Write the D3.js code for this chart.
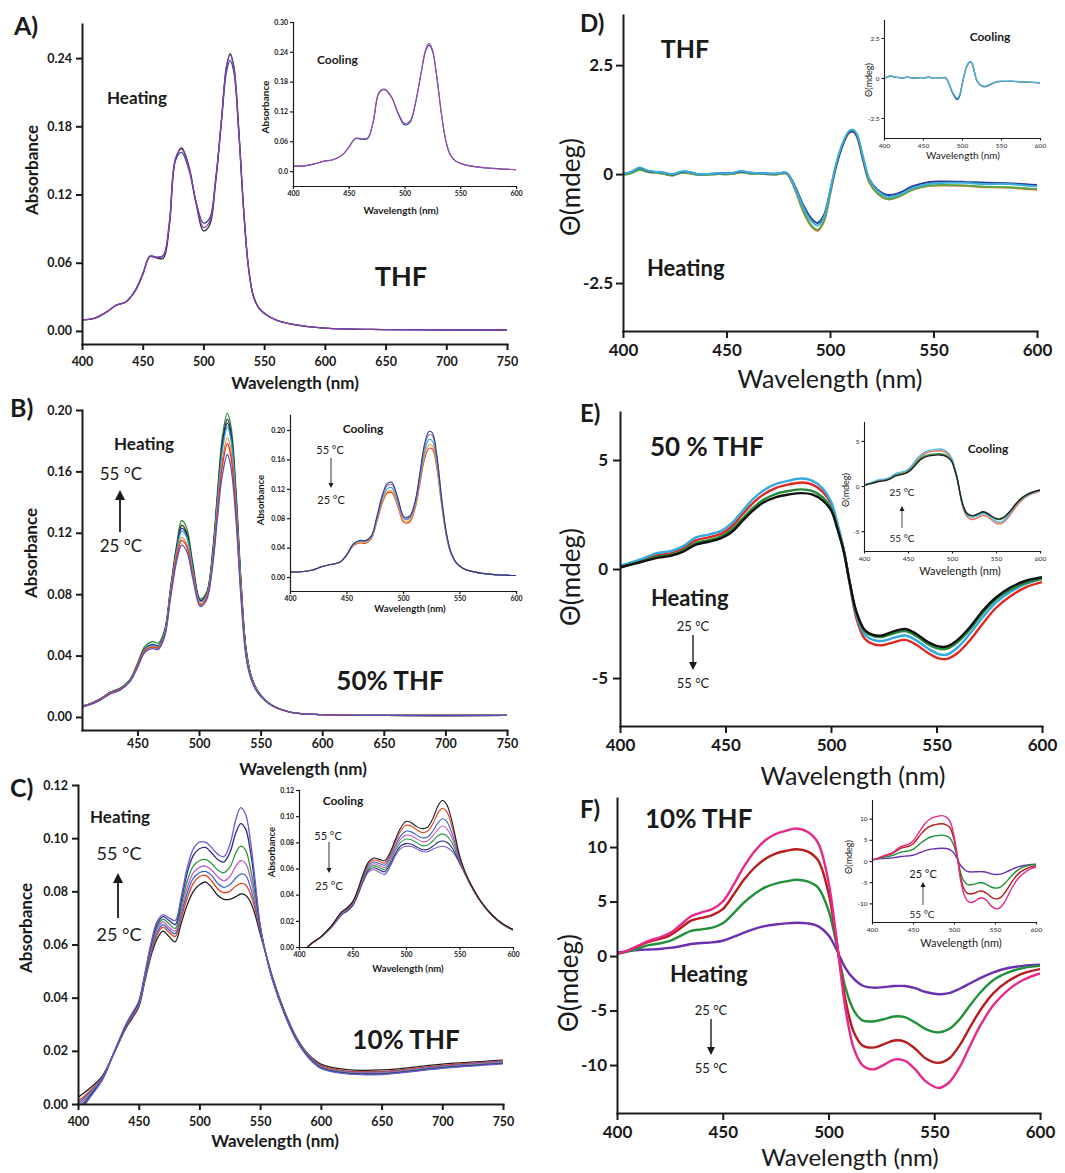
<!DOCTYPE html>
<meta charset="utf-8">
<head>
<title>Absorbance and CD spectra</title>
<script src="https://d3js.org/d3.v7.min.js"></script>
<style>
  body { margin: 0; background: #fff; }
</style>
</head>
<body>
<div id="fig"></div>
<script>
// ---------- tick values ----------
const xTicksLong = [400, 450, 500, 550, 600, 650, 700, 750];
const xTicksB = [450, 500, 550, 600, 650, 700, 750];
const xTicksShort = [400, 450, 500, 550, 600];
const yTicksA = [0, 0.06, 0.12, 0.18, 0.24];
const yTicksAi = [0, 0.06, 0.12, 0.18, 0.24, 0.30];
const yTicksB = [0, 0.04, 0.08, 0.12, 0.16, 0.20];
const yTicksC = [0, 0.02, 0.04, 0.06, 0.08, 0.10, 0.12];
const yTicksD = [-2.5, 0, 2.5];
const yTicksE = [-5, 0, 5];
const yTicksF = [-10, -5, 0, 5, 10];

// ---------- A) THF absorbance ----------
const wlA = [400,410,420,428,436,444,450,456,462,467,472,477,482,488,494,500,505,510,515,519,522,525,529,533,537,541,546,552,560,575,600,650,750];
const absA_black  = [.0097,.0110,.0165,.0225,.0255,.0355,.0495,.0655,.0640,.0640,.0930,.1510,.1610,.1450,.1120,.0880,.0930,.1300,.1870,.2330,.2440,.2330,.1790,.1090,.0570,.0310,.0195,.0140,.0095,.0055,.0025,.0012,.0008];
const absA_navy   = [.0097,.0110,.0165,.0225,.0255,.0360,.0500,.0655,.0650,.0665,.0960,.1500,.1570,.1420,.1130,.0950,.0990,.1330,.1860,.2280,.2380,.2280,.1760,.1080,.0570,.0315,.0198,.0142,.0096,.0055,.0025,.0012,.0008];
const absA_purple = [.0097,.0110,.0165,.0225,.0255,.0360,.0500,.0660,.0645,.0660,.0950,.1520,.1600,.1440,.1130,.0910,.0960,.1320,.1880,.2320,.2430,.2320,.1780,.1080,.0560,.0310,.0195,.0140,.0095,.0055,.0025,.0012,.0008];
// inset (cooling), same grid up to 600 nm
const absAi_navy   = [.0100,.0105,.0150,.0200,.0230,.0320,.0475,.0650,.0640,.0655,.0990,.1560,.1640,.1500,.1170,.0930,.0980,.1380,.1980,.2420,.2530,.2420,.1880,.1170,.0620,.0330,.0200,.0140,.0100,.0060,.0030];
const absAi_purple = [.0100,.0105,.0150,.0200,.0230,.0320,.0480,.0660,.0650,.0670,.1010,.1580,.1650,.1510,.1190,.0960,.1010,.1400,.2000,.2450,.2570,.2450,.1900,.1180,.0620,.0330,.0200,.0140,.0100,.0060,.0030];

// ---------- B) 50% THF absorbance ----------
const wlB = [405,410,420,428,436,444,450,456,462,467,472,477,482,486,490,495,501,506,511,515,519,523,526,530,534,538,542,547,553,560,575,600,650,750];
const absB_green  = [.0072,.0082,.0120,.0162,.0188,.0245,.0348,.0460,.0490,.0482,.0565,.0850,.1130,.1280,.1230,.1000,.0770,.0810,.1080,.1470,.1830,.1980,.1890,.1480,.0900,.0460,.0280,.0178,.0118,.0073,.0030,.0015,.0010,.0010];
const absB_black  = [.0070,.0080,.0118,.0160,.0185,.0240,.0340,.0445,.0472,.0466,.0552,.0838,.1110,.1250,.1200,.0980,.0760,.0800,.1060,.1440,.1790,.1940,.1850,.1450,.0880,.0450,.0275,.0176,.0116,.0072,.0030,.0015,.0010,.0010];
const absB_navy   = [.0070,.0080,.0118,.0159,.0184,.0239,.0338,.0442,.0469,.0463,.0548,.0830,.1100,.1230,.1185,.0970,.0755,.0795,.1050,.1425,.1765,.1915,.1825,.1430,.0870,.0445,.0272,.0175,.0115,.0072,.0030,.0015,.0010,.0010];
const absB_cyan   = [.0070,.0080,.0118,.0158,.0183,.0238,.0336,.0440,.0466,.0460,.0545,.0825,.1090,.1210,.1170,.0960,.0750,.0790,.1040,.1410,.1740,.1890,.1800,.1410,.0860,.0440,.0270,.0174,.0115,.0072,.0030,.0015,.0010,.0010];
const absB_orange = [.0068,.0078,.0115,.0155,.0180,.0235,.0332,.0432,.0458,.0452,.0535,.0810,.1065,.1170,.1130,.0935,.0740,.0780,.1015,.1365,.1675,.1820,.1730,.1360,.0830,.0425,.0262,.0170,.0113,.0071,.0030,.0015,.0010,.0010];
const absB_red    = [.0068,.0078,.0115,.0155,.0180,.0235,.0330,.0430,.0455,.0450,.0530,.0800,.1050,.1150,.1110,.0920,.0730,.0770,.1000,.1340,.1640,.1780,.1690,.1330,.0810,.0415,.0258,.0168,.0112,.0070,.0030,.0015,.0010,.0010];
const absB_violet = [.0065,.0075,.0110,.0150,.0175,.0230,.0320,.0420,.0445,.0440,.0520,.0780,.1020,.1120,.1080,.0900,.0720,.0760,.0980,.1300,.1580,.1710,.1620,.1280,.0780,.0400,.0250,.0165,.0110,.0070,.0030,.0015,.0010,.0010];
// inset (cooling)
const wlBi = [400,410,420,428,436,444,450,456,462,467,472,477,482,486,490,495,501,506,511,515,519,523,526,530,534,538,542,547,553,560,575,600];
const absBi_navy   = [.0070,.0072,.0095,.0140,.0170,.0200,.0300,.0450,.0500,.0495,.0560,.0830,.1130,.1270,.1290,.1100,.0820,.0830,.1050,.1420,.1800,.1980,.1960,.1650,.1100,.0640,.0360,.0200,.0120,.0080,.0040,.0020];
const absBi_purple = [.0070,.0072,.0095,.0140,.0170,.0200,.0298,.0445,.0495,.0490,.0555,.0815,.1105,.1240,.1260,.1075,.0800,.0812,.1030,.1395,.1765,.1940,.1920,.1620,.1085,.0630,.0355,.0198,.0119,.0080,.0040,.0020];
const absBi_cyan   = [.0070,.0072,.0095,.0140,.0170,.0200,.0296,.0440,.0488,.0483,.0545,.0795,.1075,.1200,.1215,.1040,.0790,.0800,.1005,.1350,.1700,.1870,.1850,.1565,.1050,.0615,.0348,.0196,.0118,.0079,.0040,.0020];
const absBi_orange = [.0070,.0072,.0095,.0140,.0170,.0200,.0292,.0430,.0470,.0468,.0530,.0770,.1040,.1160,.1175,.1000,.0760,.0770,.0970,.1300,.1640,.1800,.1785,.1510,.1020,.0600,.0340,.0193,.0117,.0078,.0040,.0020];
const absBi_red    = [.0070,.0072,.0095,.0140,.0170,.0200,.0290,.0425,.0462,.0460,.0522,.0758,.1020,.1140,.1150,.0980,.0740,.0752,.0950,.1270,.1600,.1750,.1740,.1475,.1000,.0590,.0335,.0190,.0116,.0078,.0040,.0020];

// ---------- C) 10% THF absorbance ----------
const wlC = [400,410,420,430,440,445,450,455,460,465,470,475,480,485,490,495,500,505,510,515,520,525,530,534,538,542,546,550,555,560,570,580,590,600,620,650,700,750];
const absC_black   = [.0025,.0060,.0105,.0195,.0290,.0325,.0365,.0460,.0555,.0620,.0650,.0630,.0610,.0680,.0750,.0800,.0825,.0835,.0815,.0785,.0770,.0770,.0780,.0790,.0785,.0760,.0710,.0640,.0560,.0480,.0350,.0250,.0185,.0150,.0130,.0128,.0150,.0165];
const absC_red     = [.0010,.0050,.0100,.0195,.0295,.0330,.0370,.0465,.0565,.0635,.0665,.0645,.0630,.0700,.0775,.0830,.0855,.0860,.0840,.0810,.0795,.0800,.0820,.0830,.0825,.0790,.0730,.0650,.0560,.0478,.0348,.0248,.0183,.0145,.0125,.0123,.0145,.0162];
const absC_blue    = [.0000,.0045,.0098,.0195,.0297,.0333,.0373,.0470,.0572,.0645,.0675,.0655,.0640,.0715,.0795,.0850,.0870,.0875,.0860,.0830,.0815,.0825,.0850,.0865,.0860,.0815,.0745,.0655,.0560,.0476,.0346,.0246,.0181,.0142,.0122,.0120,.0142,.0160];
const absC_magenta = [-.0010,.0040,.0096,.0196,.0299,.0336,.0376,.0475,.0580,.0655,.0685,.0665,.0650,.0730,.0815,.0870,.0890,.0895,.0880,.0855,.0840,.0855,.0895,.0915,.0905,.0850,.0765,.0660,.0560,.0474,.0344,.0244,.0179,.0140,.0120,.0118,.0140,.0158];
const absC_green   = [-.0020,.0035,.0094,.0197,.0301,.0339,.0380,.0480,.0588,.0665,.0695,.0678,.0660,.0745,.0840,.0895,.0915,.0920,.0905,.0880,.0870,.0890,.0945,.0970,.0955,.0885,.0785,.0665,.0558,.0472,.0342,.0242,.0177,.0138,.0118,.0115,.0138,.0155];
const absC_navy    = [-.0030,.0030,.0092,.0198,.0303,.0342,.0383,.0485,.0595,.0675,.0705,.0690,.0675,.0765,.0870,.0935,.0960,.0965,.0945,.0920,.0910,.0945,.1020,.1055,.1035,.0950,.0815,.0670,.0558,.0470,.0340,.0240,.0175,.0136,.0116,.0113,.0136,.0153];
const absC_violet  = [-.0040,.0025,.0090,.0199,.0305,.0345,.0386,.0490,.0602,.0685,.0712,.0700,.0690,.0780,.0890,.0960,.0985,.0985,.0965,.0940,.0930,.0975,.1070,.1115,.1090,.0990,.0835,.0675,.0558,.0468,.0338,.0238,.0173,.0134,.0114,.0111,.0134,.0151];
// inset (cooling)
const wlCi = [408,412,420,430,440,445,450,455,460,465,470,475,480,485,490,495,500,505,510,515,520,525,530,534,538,542,546,550,555,560,570,580,590,600];
const absCi_black   = [.0000,.0030,.0075,.0160,.0270,.0300,.0345,.0440,.0560,.0650,.0680,.0670,.0660,.0720,.0820,.0910,.0960,.0950,.0920,.0905,.0915,.0980,.1080,.1120,.1090,.0990,.0850,.0700,.0580,.0490,.0350,.0250,.0180,.0134];
const absCi_red     = [.0000,.0030,.0075,.0158,.0266,.0296,.0340,.0432,.0550,.0640,.0665,.0655,.0642,.0705,.0800,.0885,.0930,.0925,.0895,.0875,.0885,.0940,.1025,.1060,.1035,.0950,.0825,.0690,.0575,.0487,.0348,.0249,.0179,.0133];
const absCi_blue    = [.0000,.0030,.0074,.0155,.0262,.0292,.0335,.0425,.0540,.0625,.0650,.0638,.0625,.0685,.0775,.0850,.0885,.0880,.0855,.0835,.0840,.0885,.0950,.0980,.0960,.0890,.0790,.0675,.0570,.0485,.0346,.0248,.0178,.0132];
const absCi_magenta = [.0000,.0030,.0074,.0153,.0258,.0288,.0330,.0418,.0530,.0612,.0636,.0622,.0608,.0668,.0755,.0825,.0855,.0850,.0828,.0805,.0810,.0850,.0900,.0925,.0905,.0850,.0765,.0665,.0567,.0483,.0345,.0247,.0177,.0132];
const absCi_green   = [.0000,.0029,.0073,.0151,.0254,.0284,.0325,.0410,.0520,.0600,.0622,.0606,.0592,.0650,.0735,.0800,.0825,.0820,.0798,.0775,.0778,.0810,.0850,.0865,.0850,.0810,.0740,.0655,.0565,.0481,.0344,.0246,.0176,.0131];
const absCi_navy    = [.0000,.0029,.0072,.0148,.0250,.0278,.0318,.0402,.0508,.0588,.0606,.0590,.0575,.0630,.0712,.0772,.0790,.0785,.0765,.0745,.0745,.0770,.0800,.0810,.0800,.0770,.0715,.0645,.0562,.0480,.0343,.0245,.0175,.0130];
const absCi_violet  = [.0000,.0029,.0072,.0146,.0246,.0273,.0312,.0395,.0498,.0575,.0590,.0572,.0555,.0612,.0695,.0752,.0770,.0768,.0750,.0730,.0728,.0748,.0765,.0770,.0762,.0740,.0700,.0640,.0560,.0478,.0342,.0244,.0174,.0130];

// ---------- D) THF CD ----------
const wlD = [400,404,408,412,416,420,424,428,432,436,440,446,452,457,462,468,474,479,483,487,491,494,497,500,503,506,509,511,513,516,519,523,528,533,540,548,556,565,575,585,600];
const cdD_orange = [0.00,0.03,0.10,0.05,0.03,0.00,-0.03,0.03,0.02,-0.02,-0.02,0.00,0.00,0.04,0.01,0.00,-0.01,0.01,-0.35,-0.85,-1.20,-1.30,-1.10,-0.48,0.18,0.65,0.93,0.98,0.85,0.30,-0.20,-0.45,-0.58,-0.52,-0.36,-0.27,-0.26,-0.27,-0.30,-0.31,-0.36];
const cdD_green  = [-0.02,0.02,0.10,0.05,0.03,0.00,-0.03,0.03,0.02,-0.02,-0.02,0.00,0.00,0.04,0.01,0.00,-0.01,0.01,-0.33,-0.83,-1.18,-1.28,-1.08,-0.46,0.20,0.67,0.95,1.00,0.88,0.33,-0.18,-0.44,-0.57,-0.52,-0.35,-0.26,-0.25,-0.26,-0.29,-0.30,-0.34];
const cdD_navy   = [0.00,0.05,0.14,0.07,0.05,0.03,-0.01,0.05,0.05,0.00,0.00,0.02,0.02,0.06,0.03,0.02,0.01,0.03,-0.27,-0.70,-1.02,-1.12,-0.95,-0.40,0.20,0.65,0.95,0.98,0.88,0.35,-0.12,-0.36,-0.48,-0.44,-0.28,-0.18,-0.17,-0.18,-0.20,-0.21,-0.25];
const cdD_cyan   = [0.00,0.05,0.15,0.08,0.05,0.03,0.00,0.06,0.05,0.00,0.00,0.02,0.02,0.07,0.03,0.02,0.01,0.03,-0.30,-0.75,-1.08,-1.18,-1.00,-0.40,0.25,0.70,0.98,1.02,0.92,0.40,-0.12,-0.38,-0.52,-0.48,-0.32,-0.22,-0.20,-0.20,-0.23,-0.23,-0.28];
const cdDi_navy  = [0.00,0.04,0.13,0.07,0.04,0.02,-0.01,0.04,0.04,0.00,0.00,0.02,0.02,0.05,0.02,0.02,0.01,0.02,-0.33,-0.84,-1.20,-1.35,-1.12,-0.45,0.22,0.70,0.96,1.00,0.90,0.36,-0.17,-0.42,-0.55,-0.49,-0.32,-0.22,-0.21,-0.21,-0.24,-0.26,-0.32];
const cdDi_cyan  = [0.00,0.05,0.15,0.08,0.04,0.02,0.00,0.05,0.04,0.00,0.00,0.02,0.02,0.05,0.02,0.02,0.01,0.02,-0.30,-0.78,-1.12,-1.25,-1.05,-0.42,0.25,0.72,0.98,1.02,0.92,0.38,-0.15,-0.40,-0.52,-0.46,-0.30,-0.20,-0.20,-0.20,-0.23,-0.25,-0.30];

// ---------- E) 50% THF CD ----------
const wlE = [400,410,417,424,430,436,442,448,453,458,463,468,474,480,486,491,496,500,503,506,509,512,516,520,524,530,535,540,546,551,555,560,566,572,578,585,592,600];
const cdE_red   = [0.05,0.40,0.62,0.72,0.95,1.32,1.45,1.62,1.95,2.50,3.02,3.42,3.72,3.88,3.97,3.88,3.55,3.00,2.05,0.90,-0.75,-2.25,-3.20,-3.45,-3.50,-3.35,-3.25,-3.45,-3.85,-4.10,-4.12,-3.85,-3.25,-2.50,-1.80,-1.25,-0.85,-0.60];
const cdE_cyan  = [0.15,0.45,0.72,0.82,1.05,1.45,1.58,1.75,2.10,2.65,3.20,3.60,3.90,4.05,4.15,4.05,3.70,3.10,2.10,0.90,-0.70,-2.10,-3.00,-3.25,-3.30,-3.15,-3.05,-3.25,-3.65,-3.90,-3.92,-3.60,-2.95,-2.20,-1.55,-1.05,-0.70,-0.45];
const cdE_green = [0.08,0.35,0.55,0.65,0.85,1.20,1.32,1.50,1.80,2.30,2.80,3.18,3.45,3.58,3.65,3.58,3.30,2.80,1.90,0.85,-0.68,-2.00,-2.85,-3.08,-3.12,-2.95,-2.85,-3.05,-3.45,-3.65,-3.65,-3.35,-2.75,-2.00,-1.40,-0.95,-0.65,-0.45];
const cdE_black = [0.08,0.32,0.50,0.60,0.80,1.12,1.25,1.42,1.70,2.20,2.68,3.05,3.30,3.42,3.48,3.42,3.15,2.70,1.85,0.82,-0.68,-1.95,-2.80,-3.02,-3.05,-2.85,-2.75,-2.95,-3.35,-3.55,-3.55,-3.25,-2.65,-1.90,-1.32,-0.85,-0.55,-0.38];
const cdEi_red   = [0.05,0.40,0.62,0.72,0.92,1.30,1.45,1.62,2.02,2.60,3.15,3.52,3.78,3.88,3.92,3.82,3.50,2.95,2.00,0.85,-0.80,-2.25,-3.25,-3.60,-3.70,-3.45,-3.25,-3.40,-3.85,-4.15,-4.18,-3.90,-3.20,-2.40,-1.70,-1.15,-0.82,-0.58];
const cdEi_cyan  = [0.10,0.45,0.70,0.80,1.00,1.40,1.55,1.72,2.15,2.75,3.30,3.70,3.95,4.05,4.10,4.00,3.65,3.05,2.05,0.85,-0.75,-2.15,-3.10,-3.40,-3.50,-3.25,-3.05,-3.20,-3.65,-3.95,-4.00,-3.70,-3.00,-2.20,-1.55,-1.05,-0.75,-0.50];
const cdEi_green = [0.08,0.35,0.55,0.65,0.85,1.20,1.33,1.50,1.85,2.40,2.95,3.28,3.48,3.55,3.58,3.50,3.22,2.75,1.85,0.80,-0.70,-2.00,-2.95,-3.25,-3.32,-3.10,-2.90,-3.05,-3.45,-3.70,-3.70,-3.45,-2.85,-2.10,-1.45,-0.98,-0.68,-0.45];
const cdEi_black = [0.08,0.32,0.50,0.60,0.80,1.12,1.26,1.43,1.75,2.28,2.82,3.15,3.35,3.42,3.45,3.38,3.10,2.65,1.80,0.78,-0.70,-1.95,-2.90,-3.20,-3.28,-3.05,-2.85,-3.00,-3.40,-3.62,-3.62,-3.38,-2.78,-2.05,-1.42,-0.95,-0.66,-0.44];

// ---------- F) 10% THF CD ----------
const wlF = [400,405,410,415,420,425,430,435,440,445,450,455,460,465,470,475,480,485,490,495,500,503,505,508,512,516,521,526,531,536,541,546,552,557,562,567,572,578,585,592,600];
const cdF_purple = [0.30,0.45,0.55,0.60,0.65,0.75,0.90,1.10,1.20,1.25,1.40,1.75,2.15,2.50,2.75,2.90,3.00,3.05,3.00,2.75,1.90,0.90,0.10,-1.10,-2.10,-2.70,-2.90,-2.85,-2.75,-2.75,-2.95,-3.30,-3.50,-3.40,-3.00,-2.50,-2.00,-1.50,-1.10,-0.90,-0.80];
const cdF_green  = [0.20,0.40,0.70,1.00,1.15,1.40,1.85,2.30,2.45,2.60,3.00,3.90,4.90,5.70,6.30,6.65,6.85,7.00,6.85,6.30,4.20,1.80,-0.10,-2.90,-5.00,-5.90,-6.00,-5.80,-5.55,-5.60,-6.10,-6.70,-7.00,-6.70,-5.80,-4.50,-3.30,-2.20,-1.50,-1.10,-0.90];
const cdF_red    = [0.20,0.50,0.90,1.30,1.55,1.90,2.55,3.25,3.50,3.75,4.30,5.60,7.00,8.10,8.90,9.40,9.65,9.80,9.60,8.80,5.80,2.40,-0.20,-4.00,-7.00,-8.20,-8.40,-8.10,-7.75,-7.85,-8.50,-9.40,-9.80,-9.40,-8.20,-6.50,-4.90,-3.40,-2.30,-1.60,-1.20];
const cdF_pink   = [0.20,0.50,0.95,1.40,1.70,2.10,2.85,3.65,4.00,4.30,5.00,6.50,8.20,9.60,10.60,11.20,11.50,11.70,11.40,10.40,6.80,2.80,-0.30,-4.80,-8.50,-10.00,-10.40,-10.00,-9.50,-9.60,-10.40,-11.50,-12.10,-11.60,-10.20,-8.20,-6.30,-4.50,-3.10,-2.20,-1.60];
const cdFi_purple = [0.30,0.45,0.55,0.60,0.65,0.75,0.90,1.05,1.15,1.20,1.35,1.70,2.10,2.45,2.70,2.85,2.95,3.00,2.95,2.70,1.85,0.85,0.10,-1.00,-1.90,-2.45,-2.60,-2.55,-2.50,-2.55,-2.75,-3.05,-3.20,-3.10,-2.75,-2.30,-1.85,-1.40,-1.05,-0.85,-0.75];
const cdFi_green  = [0.20,0.40,0.65,0.95,1.10,1.30,1.70,2.10,2.25,2.40,2.75,3.50,4.30,5.00,5.55,5.85,6.00,6.10,5.95,5.45,3.60,1.50,-0.10,-2.70,-4.70,-5.50,-5.60,-5.40,-5.15,-5.20,-5.70,-6.20,-6.40,-6.10,-5.30,-4.20,-3.10,-2.10,-1.40,-1.00,-0.80];
const cdFi_red    = [0.20,0.50,0.85,1.20,1.45,1.80,2.40,3.00,3.25,3.50,4.00,5.20,6.40,7.40,8.10,8.50,8.70,8.80,8.60,7.90,5.10,2.10,-0.20,-3.70,-6.50,-7.60,-7.80,-7.50,-7.10,-7.20,-7.80,-8.60,-9.00,-8.60,-7.50,-6.00,-4.50,-3.10,-2.10,-1.50,-1.10];
const cdFi_pink   = [0.20,0.50,0.90,1.30,1.60,2.00,2.70,3.40,3.70,4.00,4.70,6.10,7.60,8.90,9.80,10.30,10.55,10.70,10.40,9.40,6.00,2.40,-0.30,-4.40,-7.80,-9.30,-9.80,-9.40,-8.80,-8.80,-9.60,-10.70,-11.30,-10.90,-9.60,-7.70,-5.90,-4.20,-2.90,-2.00,-1.40];

// ---------- drawing ----------
const FONT = "Lato, 'Open Sans', 'DejaVu Sans', sans-serif";
const INK = "#1a1a1a";
const f2 = d3.format(".2f");
const plain = d => String(d);

const svg = d3.select("#fig").append("svg")
  .attr("width", 1065).attr("height", 1173)
  .style("background", "#fff");

let clipN = 0;

function drawPanel(p) {
  const x = d3.scaleLinear().domain(p.xDom).range(p.x);
  const y = d3.scaleLinear().domain(p.yDom).range(p.y);

  const id = "clip" + (clipN++);
  svg.append("clipPath").attr("id", id).append("rect")
    .attr("x", p.x[0]).attr("y", p.y[1])
    .attr("width", p.x[1] - p.x[0]).attr("height", p.y[0] - p.y[1]);

  // smooth spectra through the read points
  const line = d3.line()
    .x(d => x(d[0]))
    .y(d => y(d[1]))
    .curve(d3.curveCatmullRom.alpha(0.5));

  svg.append("g").attr("clip-path", `url(#${id})`)
    .selectAll("path")
    .data(p.series)
    .join("path")
    .attr("d", s => line(d3.zip(s.wl, s.v)))
    .attr("fill", "none")
    .attr("stroke", s => s.c)
    .attr("stroke-width", p.lw)
    .attr("stroke-linejoin", "round");

  const gx = svg.append("g")
    .attr("transform", `translate(0,${p.y[0]})`)
    .call(d3.axisBottom(x).tickValues(p.xTicks).tickFormat(d3.format("d"))
      .tickSize(p.ts).tickPadding(p.xPad).tickSizeOuter(0));

  const gy = svg.append("g")
    .attr("transform", `translate(${p.x[0]},0)`)
    .call(d3.axisLeft(y).tickValues(p.yTicks).tickFormat(p.yFmt)
      .tickSize(p.ts).tickPadding(p.yPad).tickSizeOuter(0));

  [gx, gy].forEach(g => {
    g.attr("font-family", FONT).attr("font-size", p.fs).attr("font-weight", p.fw || "bold");
    g.select(".domain").attr("stroke", INK).attr("stroke-width", p.aw).attr("stroke-linecap", "square");
    g.selectAll(".tick line").attr("stroke", INK).attr("stroke-width", p.aw);
    g.selectAll(".tick text").attr("fill", INK);
  });
}

function label(x, y, t, size, weight, anchor, rot) {
  const el = svg.append("text")
    .attr("x", x).attr("y", y)
    .attr("font-family", FONT)
    .attr("font-size", size)
    .attr("font-weight", weight || "normal")
    .attr("text-anchor", anchor || "middle")
    .attr("dominant-baseline", "central")
    .attr("fill", INK)
    .text(t);
  if (rot) el.attr("transform", `rotate(-90,${x},${y})`);
}

function arrow(x, y1, y2, head, w) {
  const dir = y2 > y1 ? 1 : -1;
  svg.append("line")
    .attr("x1", x).attr("x2", x)
    .attr("y1", y1).attr("y2", y2 - dir * head * 0.8)
    .attr("stroke", INK).attr("stroke-width", w);
  svg.append("path")
    .attr("d", `M${x},${y2} L${x - head * 0.5},${y2 - dir * head} L${x + head * 0.5},${y2 - dir * head} Z`)
    .attr("fill", INK);
}

// common styles
const mainAbs = {fs: 12.5, aw: 2, ts: 6, yPad: 4, xPad: 7, lw: 1.3};
const insetAbs = {fs: 7, aw: 1.2, ts: 3, yPad: 2, xPad: 2.5, lw: 1.1};
const mainCD = {fs: 17, aw: 2, ts: 7, yPad: 3, xPad: 6, lw: 2.4};
const insetCD = {fs: 6.5, aw: 1.1, ts: 2.5, yPad: 2, xPad: 2.5, lw: 1.4, fw: "normal"};

// ----- A -----
drawPanel({...mainAbs, x: [82, 507], y: [344, 24], xDom: [400, 750], yDom: [-0.0115, 0.27],
  xTicks: xTicksLong, yTicks: yTicksA, yFmt: f2,
  series: [
    {wl: wlA, v: absA_black, c: "#2b2b2b"},
    {wl: wlA, v: absA_navy, c: "#2f4aa0"},
    {wl: wlA, v: absA_purple, c: "#8a3fa8"}
  ]});
drawPanel({...insetAbs, x: [293, 516], y: [186, 22], xDom: [400, 600], yDom: [-0.03, 0.30],
  xTicks: xTicksShort, yTicks: yTicksAi, yFmt: d => d === 0 ? "0.0" : f2(d),
  series: [
    {wl: wlA, v: absAi_navy, c: "#2f4aa0"},
    {wl: wlA, v: absAi_purple, c: "#9b4aa8"}
  ]});
label(14, 25, "A)", 25, "bold", "start");
label(107, 97, "Heating", 17, "bold", "start");
label(401, 275, "THF", 27, "bold");
label(31, 170, "Absorbance", 17, "bold", "middle", true);
label(295, 382, "Wavelength (nm)", 17, "bold");
label(317, 59, "Cooling", 12, "bold", "start");
label(265, 107, "Absorbance", 10, "bold", "middle", true);
label(401, 210, "Wavelength (nm)", 10, "bold");

// ----- B -----
drawPanel({...mainAbs, xPad: 3, x: [82, 507], y: [730, 410], xDom: [405, 750], yDom: [-0.0085, 0.20],
  xTicks: xTicksB, yTicks: yTicksB, yFmt: f2,
  series: [
    {wl: wlB, v: absB_green, c: "#2e8b3a"},
    {wl: wlB, v: absB_black, c: "#2b2b2b"},
    {wl: wlB, v: absB_navy, c: "#22308a"},
    {wl: wlB, v: absB_cyan, c: "#2aa6d6"},
    {wl: wlB, v: absB_orange, c: "#f08a2a"},
    {wl: wlB, v: absB_red, c: "#e2321e"},
    {wl: wlB, v: absB_violet, c: "#5552c8"}
  ]});
drawPanel({...insetAbs, x: [290, 516], y: [591, 415], xDom: [400, 600], yDom: [-0.019, 0.2204],
  xTicks: xTicksShort, yTicks: yTicksB, yFmt: f2,
  series: [
    {wl: wlBi, v: absBi_red, c: "#e2321e"},
    {wl: wlBi, v: absBi_orange, c: "#f0a02a"},
    {wl: wlBi, v: absBi_cyan, c: "#2aa6d6"},
    {wl: wlBi, v: absBi_purple, c: "#b070b0"},
    {wl: wlBi, v: absBi_navy, c: "#2a3a90"}
  ]});
label(10, 407, "B)", 25, "bold", "start");
label(144, 443, "Heating", 17, "bold");
label(121, 473, "55 °C", 17);
arrow(120, 532, 490, 10, 1.8);
label(121, 545, "25 °C", 17);
label(390, 680, "50% THF", 26, "bold");
label(30, 553, "Absorbance", 17, "bold", "middle", true);
label(303, 768, "Wavelength (nm)", 17, "bold");
label(363, 428, "Cooling", 12, "bold");
label(330, 449, "55 °C", 11);
arrow(331, 458, 488, 5, 0.9);
label(331, 499, "25 °C", 11);
label(410, 608, "Wavelength (nm)", 9.5, "bold");
label(260, 500, "Absorbance", 9.5, "bold", "middle", true);

// ----- C -----
drawPanel({...mainAbs, x: [78, 503], y: [1104, 785], xDom: [400, 750], yDom: [0, 0.12],
  xTicks: xTicksLong, yTicks: yTicksC, yFmt: f2,
  series: [
    {wl: wlC, v: absC_black, c: "#1e1e1e"},
    {wl: wlC, v: absC_red, c: "#e8401c"},
    {wl: wlC, v: absC_blue, c: "#3a64c8"},
    {wl: wlC, v: absC_magenta, c: "#c25ec8"},
    {wl: wlC, v: absC_green, c: "#2e9a40"},
    {wl: wlC, v: absC_navy, c: "#2a2a80"},
    {wl: wlC, v: absC_violet, c: "#6a5ad0"}
  ]});
drawPanel({...insetAbs, x: [299, 513], y: [947, 790], xDom: [400, 600], yDom: [0, 0.12],
  xTicks: xTicksShort, yTicks: yTicksC, yFmt: f2,
  series: [
    {wl: wlCi, v: absCi_violet, c: "#7a5ad0"},
    {wl: wlCi, v: absCi_navy, c: "#2a2a80"},
    {wl: wlCi, v: absCi_green, c: "#2e9a40"},
    {wl: wlCi, v: absCi_magenta, c: "#c25ec8"},
    {wl: wlCi, v: absCi_blue, c: "#3a64c8"},
    {wl: wlCi, v: absCi_red, c: "#e8401c"},
    {wl: wlCi, v: absCi_black, c: "#1e1e1e"}
  ]});
label(10, 787, "C)", 25, "bold", "start");
label(120, 816, "Heating", 17, "bold");
label(119, 853, "55 °C", 18);
arrow(118, 918, 873, 10, 1.8);
label(119, 934, "25 °C", 18);
label(406, 1039, "10% THF", 26, "bold");
label(25, 928, "Absorbance", 17, "bold", "middle", true);
label(275, 1140, "Wavelength (nm)", 17, "bold");
label(343, 800, "Cooling", 12, "bold");
label(328, 835, "55 °C", 11);
arrow(329, 842, 873, 5, 0.9);
label(329, 885, "25 °C", 11);
label(408, 968, "Wavelength (nm)", 9.5, "bold");
label(271, 852, "Absorbance", 9.5, "bold", "middle", true);

// ----- D -----
drawPanel({...mainCD, lw: 2, x: [623, 1037], y: [331, 15], xDom: [400, 600], yDom: [-3.6, 3.65],
  xTicks: xTicksShort, yTicks: yTicksD, yFmt: plain,
  series: [
    {wl: wlD, v: cdD_orange, c: "#e8702a"},
    {wl: wlD, v: cdD_green, c: "#5aa84a"},
    {wl: wlD, v: cdD_navy, c: "#2a3a9a"},
    {wl: wlD, v: cdD_cyan, c: "#3ab0d8"}
  ]});
drawPanel({...insetCD, x: [884, 1040], y: [138, 20], xDom: [400, 600], yDom: [-3.75, 3.625],
  xTicks: xTicksShort, yTicks: yTicksD, yFmt: plain,
  series: [
    {wl: wlD, v: cdDi_navy, c: "#2a4a9a"},
    {wl: wlD, v: cdDi_cyan, c: "#5ab4c8"}
  ]});
label(580, 22, "D)", 24, "bold", "start");
label(685, 48, "THF", 25, "bold");
label(647, 267, "Heating", 22, "bold", "start");
label(570, 187, "Θ(mdeg)", 26, "normal", "middle", true);
label(830, 378, "Wavelength (nm)", 25);
label(990, 36, "Cooling", 12, "bold");
label(868, 80, "Θ(mdeg)", 9, "normal", "middle", true);
label(963, 155, "Wavelength (nm)", 10);

// ----- E -----
drawPanel({...mainCD, x: [620, 1042], y: [726, 412], xDom: [400, 600], yDom: [-7.2, 7.2],
  xTicks: xTicksShort, yTicks: yTicksE, yFmt: plain, yPad: 5,
  series: [
    {wl: wlE, v: cdE_red, c: "#e02820"},
    {wl: wlE, v: cdE_cyan, c: "#36a8e0"},
    {wl: wlE, v: cdE_green, c: "#1e8a3a"},
    {wl: wlE, v: cdE_black, c: "#111111"}
  ]});
drawPanel({...insetCD, x: [864, 1040], y: [551, 422], xDom: [400, 600], yDom: [-7.2, 7.1],
  xTicks: xTicksShort, yTicks: yTicksE, yFmt: plain,
  series: [
    {wl: wlE, v: cdEi_red, c: "#f06a50"},
    {wl: wlE, v: cdEi_cyan, c: "#5ab8e8"},
    {wl: wlE, v: cdEi_green, c: "#2e9a4a"},
    {wl: wlE, v: cdEi_black, c: "#222222"}
  ]});
label(580, 412, "E)", 24, "bold", "start");
label(650, 446, "50 % THF", 26, "bold", "start");
label(651, 597, "Heating", 22, "bold", "start");
label(693, 626, "25 °C", 13);
arrow(693, 635, 670, 8, 1.4);
label(693, 683, "55 °C", 13);
label(570, 577, "Θ(mdeg)", 26, "normal", "middle", true);
label(853, 775, "Wavelength (nm)", 25);
label(988, 448, "Cooling", 12, "bold");
label(902, 492, "25 °C", 10);
arrow(902, 528, 506, 5, 0.8);
label(902, 538, "55 °C", 10);
label(960, 570, "Wavelength (nm)", 11);
label(845, 490, "Θ(mdeg)", 9, "normal", "middle", true);

// ----- F -----
drawPanel({...mainCD, x: [617, 1040], y: [1113, 798], xDom: [400, 600], yDom: [-14.4, 14.5],
  xTicks: xTicksShort, yTicks: yTicksF, yFmt: plain,
  series: [
    {wl: wlF, v: cdF_purple, c: "#6a30b0"},
    {wl: wlF, v: cdF_green, c: "#22913a"},
    {wl: wlF, v: cdF_red, c: "#b81c1c"},
    {wl: wlF, v: cdF_pink, c: "#e8288a"}
  ]});
drawPanel({...insetCD, x: [872, 1036], y: [922, 800], xDom: [400, 600], yDom: [-14.4, 14.4],
  xTicks: xTicksShort, yTicks: yTicksF, yFmt: plain,
  series: [
    {wl: wlF, v: cdFi_purple, c: "#6a30b0"},
    {wl: wlF, v: cdFi_green, c: "#22913a"},
    {wl: wlF, v: cdFi_red, c: "#b81c1c"},
    {wl: wlF, v: cdFi_pink, c: "#e8288a"}
  ]});
label(580, 808, "F)", 24, "bold", "start");
label(645, 818, "10% THF", 26, "bold", "start");
label(670, 973, "Heating", 22, "bold", "start");
label(711, 1010, "25 °C", 13);
arrow(711, 1019, 1055, 8, 1.4);
label(711, 1068, "55 °C", 13);
label(568, 983, "Θ(mdeg)", 26, "normal", "middle", true);
label(850, 1156, "Wavelength (nm)", 24);
label(923, 873, "25 °C", 11);
arrow(923, 905, 882, 5, 0.8);
label(922, 914, "55 °C", 10);
label(961, 942, "Wavelength (nm)", 11);
label(848, 857, "Θ(mdeg)", 9, "normal", "middle", true);
</script>
</body>
